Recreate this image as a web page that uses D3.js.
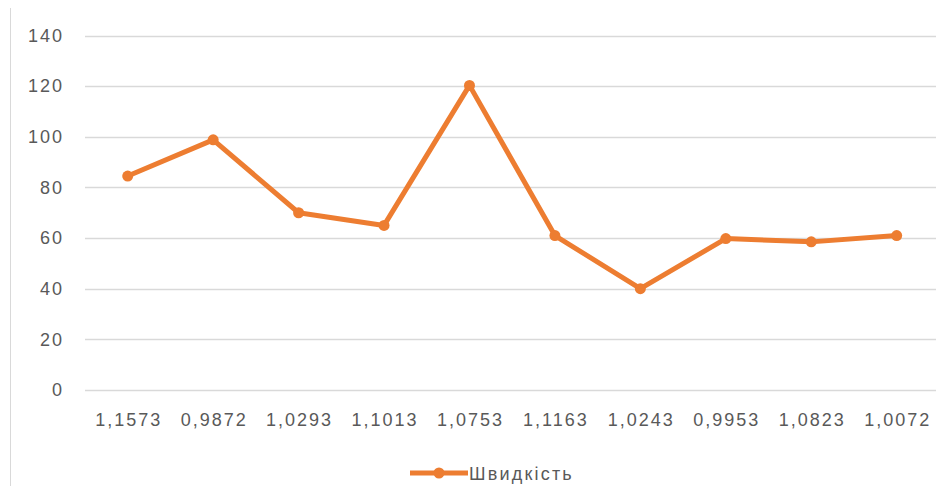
<!DOCTYPE html>
<html><head><meta charset="utf-8">
<script src="https://cdn.jsdelivr.net/npm/d3@7"></script>
<style>
html,body{margin:0;padding:0;background:#fff;}
svg text{font-family:"Liberation Sans",Arial,sans-serif;fill:#595959;}
</style></head>
<body><svg id="c" width="937" height="486"></svg>
<script>
const categories = ["1,1573","0,9872","1,0293","1,1013","1,0753","1,1163","1,0243","0,9953","1,0823","1,0072"];
const values = [84.5, 98.8, 70, 65, 120.3, 61, 40, 59.8, 58.5, 61];
const yTicks = [0,20,40,60,80,100,120,140];
const seriesName = "Швидкість";

const svg = d3.select("#c");
const color = "#ED7D31";
const x = d3.scaleBand().domain(categories).range([85, 939.4]);
const y = d3.scaleLinear().domain([0,140]).range([390, 35.5]);

// border line
svg.append("line").attr("x1",10.5).attr("x2",10.5).attr("y1",8).attr("y2",486)
  .attr("stroke","#d9d9d9").attr("stroke-width",1);

// gridlines
svg.append("g").selectAll("line").data(yTicks).join("line")
  .attr("x1",85).attr("x2",936).attr("y1",d=>Math.round(y(d))+0.5).attr("y2",d=>Math.round(y(d))+0.5)
  .attr("stroke","#d9d9d9").attr("stroke-width",1.3);

// y axis labels
const yAxis = d3.axisLeft(y).tickValues(yTicks).tickSize(0).tickPadding(0);
const gy = svg.append("g").attr("transform","translate(62,0)").call(yAxis);
gy.select(".domain").remove();
gy.selectAll("text").style("font-size","18px").style("letter-spacing","2px")
  .attr("fill","#595959").attr("dx","2");

// x axis labels
const xAxis = d3.axisBottom(x).tickSize(0).tickPadding(0);
const gx = svg.append("g").attr("transform","translate(0,413)").call(xAxis);
gx.select(".domain").remove();
gx.selectAll("text").style("font-size","18px").style("letter-spacing","2px")
  .attr("fill","#595959").attr("dx","1");

// line
const cx = d => x(d) + x.bandwidth()/2;
const line = d3.line().x((d,i)=>cx(categories[i])).y(d=>y(d));
svg.append("path").datum(values).attr("d",line).attr("fill","none")
  .attr("stroke",color).attr("stroke-width",5).attr("stroke-linejoin","round");
svg.append("g").selectAll("circle").data(values).join("circle")
  .attr("cx",(d,i)=>cx(categories[i])).attr("cy",d=>y(d)).attr("r",5.5).attr("fill",color);

// legend
const lg = svg.append("g");
lg.append("line").attr("x1",410).attr("x2",468).attr("y1",473).attr("y2",473)
  .attr("stroke",color).attr("stroke-width",5);
lg.append("circle").attr("cx",439).attr("cy",473).attr("r",5.5).attr("fill",color);
lg.append("text").attr("x",469).attr("y",479.5).style("font-size","18px").style("letter-spacing","2.2px").text(seriesName);
</script></body></html>
